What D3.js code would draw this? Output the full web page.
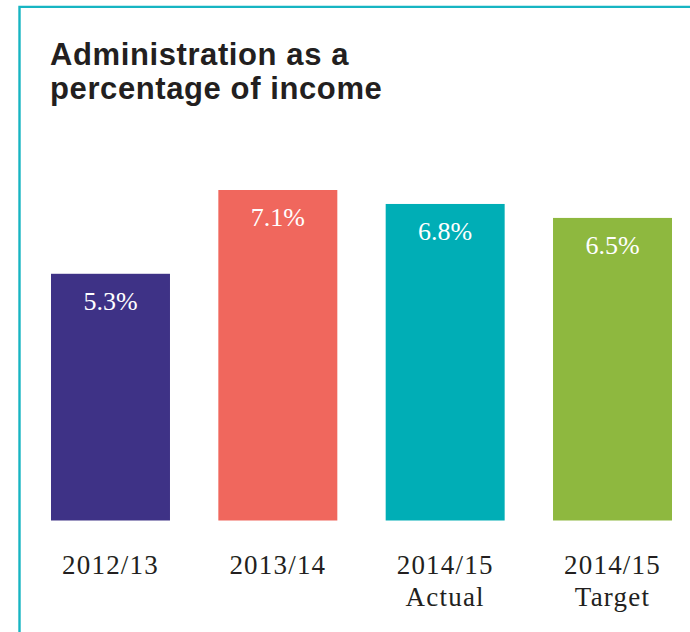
<!DOCTYPE html>
<html>
<head>
<meta charset="utf-8">
<script src="https://cdn.jsdelivr.net/npm/d3@7"></script>
<style>
  html, body { margin: 0; padding: 0; background: #ffffff; }
  svg { display: block; }
</style>
</head>
<body>
<svg id="chart" width="690" height="632"></svg>
<script>
// Administration cost as a share of income, by year
const categories = ["2012/13", "2013/14", "2014/15", "2014/15"];
const subLabels  = ["", "", "Actual", "Target"];
const values     = [5.3, 7.1, 6.8, 6.5];
const barColors  = ["#3e3286", "#f0675d", "#00aeb6", "#8eb83f"];
const titleLines = ["Administration as a", "percentage of income"];

const data = categories.map((c, i) => ({
  key: i, cat: c, sub: subLabels[i], value: values[i], color: barColors[i]
}));

const svg = d3.select("#chart");

// Teal frame along the top and left edges
svg.append("path")
  .attr("d", "M19.5,632 V6.9 H690")
  .attr("fill", "none")
  .attr("stroke", "#17b5c2")
  .attr("stroke-width", 2.4);

// Title
const title = svg.append("text")
  .attr("x", 50)
  .attr("y", 65)
  .attr("font-family", "'Liberation Sans', Arial, sans-serif")
  .attr("font-weight", "bold")
  .attr("font-size", 31)
  .attr("letter-spacing", 0.6)
  .attr("fill", "#231f20");
title.selectAll("tspan")
  .data(titleLines)
  .join("tspan")
  .attr("x", 50)
  .attr("dy", (d, i) => i === 0 ? 0 : 33.5)
  .text(d => d);

// Scales
const x = d3.scaleBand()
  .domain(data.map(d => d.key))
  .range([51, 672])
  .paddingInner(0.289)
  .paddingOuter(0);

const y = d3.scaleLinear()
  .domain([0, 7.1])
  .range([520.5, 190]);

// Bars
svg.append("g")
  .selectAll("rect")
  .data(data)
  .join("rect")
  .attr("x", d => x(d.key))
  .attr("y", d => y(d.value))
  .attr("width", x.bandwidth())
  .attr("height", d => y(0) - y(d.value))
  .attr("fill", d => d.color);

// Value labels inside each bar
svg.append("g")
  .selectAll("text")
  .data(data)
  .join("text")
  .attr("x", d => x(d.key) + x.bandwidth() / 2)
  .attr("y", d => y(d.value) + 36)
  .attr("text-anchor", "middle")
  .attr("font-family", "'Liberation Serif', 'Times New Roman', serif")
  .attr("font-size", 26)
  .attr("fill", "#ffffff")
  .text(d => d3.format(".1f")(d.value) + "%");

// Category labels under the bars
const catAxis = d3.axisBottom(x)
  .tickSize(0)
  .tickFormat(k => data[k].cat);

const axisG = svg.append("g")
  .attr("transform", `translate(0, ${y(0)})`)
  .call(catAxis);

axisG.select(".domain").remove();
axisG.selectAll(".tick text")
  .attr("y", 53.5)
  .attr("dy", 0)
  .attr("font-family", "'Liberation Serif', 'Times New Roman', serif")
  .attr("font-size", 27)
  .attr("letter-spacing", 1.2)
  .attr("fill", "#231f20");

axisG.selectAll(".tick")
  .filter(k => data[k].sub)
  .append("text")
  .attr("y", 85.5)
  .attr("text-anchor", "middle")
  .attr("font-family", "'Liberation Serif', 'Times New Roman', serif")
  .attr("font-size", 27)
  .attr("letter-spacing", 1.2)
  .attr("fill", "#231f20")
  .text(k => data[k].sub);
</script>
</body>
</html>
